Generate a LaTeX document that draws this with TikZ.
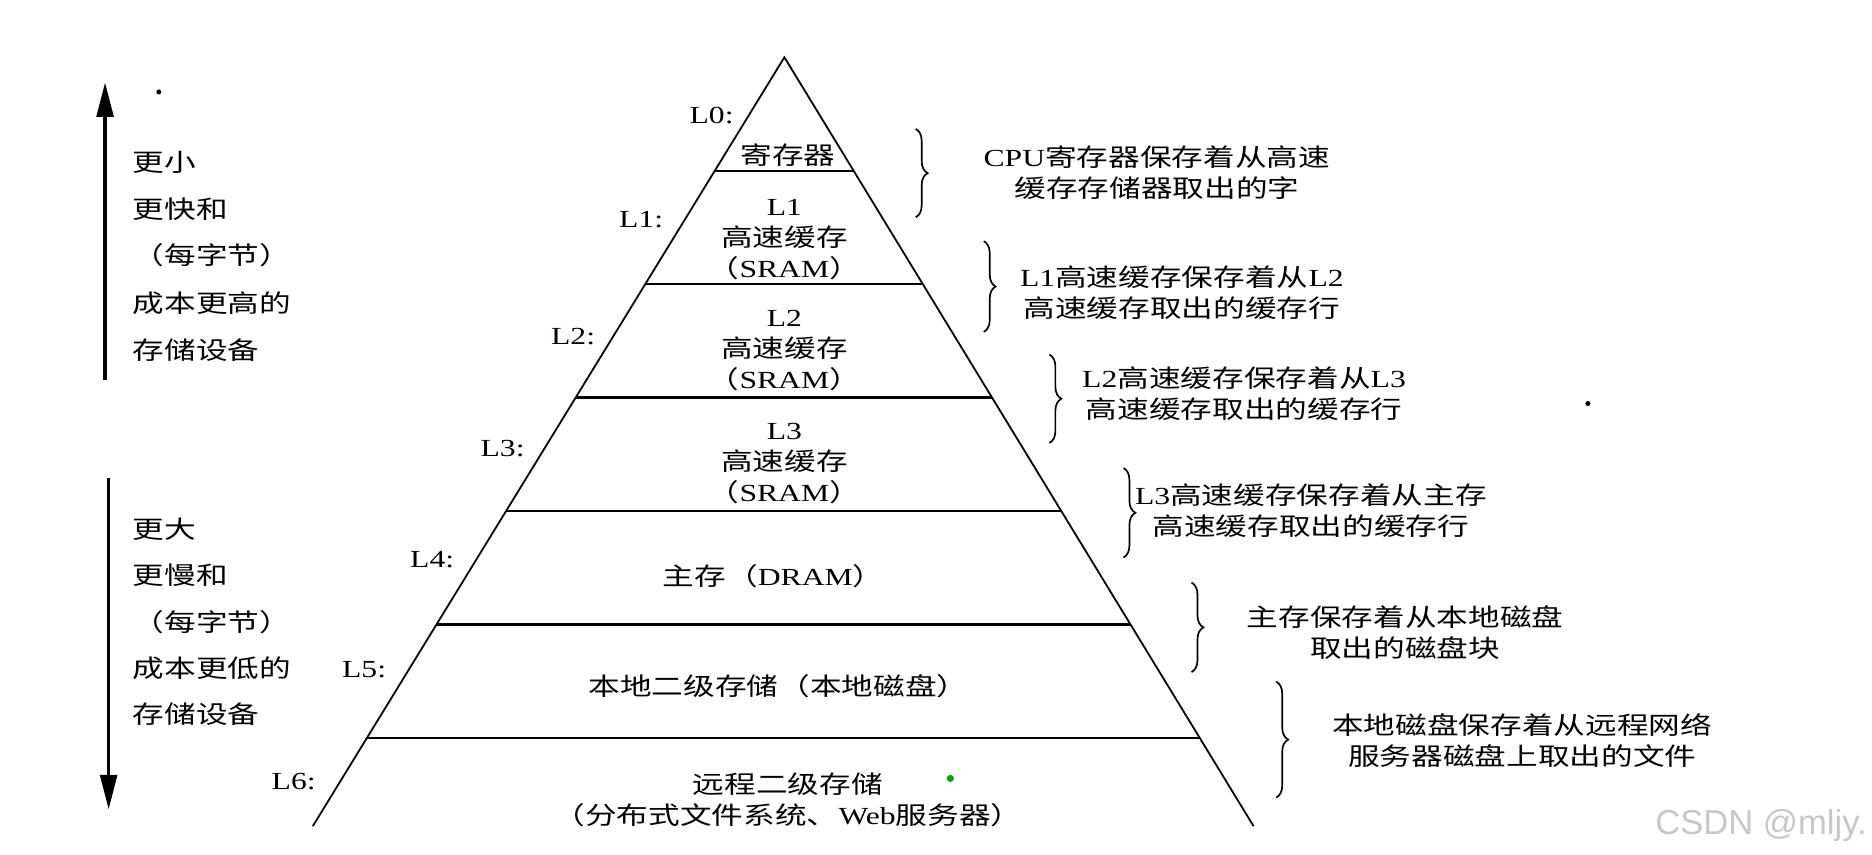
\documentclass[tikz,border=0pt]{standalone}
\usepackage{fontspec}
\setmainfont{Liberation Serif}[FakeStretch=1.29]
\newfontfamily\cjkfont{Noto Sans CJK SC}[FakeStretch=1.29]
\newfontfamily\markfont{Liberation Sans}
\newcommand{\zh}[1]{{\cjkfont #1}}
\usetikzlibrary{calc,arrows.meta,decorations.pathreplacing}

\begin{document}
\begin{tikzpicture}[x=0.02cm, y=-0.02cm,
	txt/.style={font=\fontsize{11.7}{14.8}\selectfont, inner sep=0pt, align=center},
	side/.style={line width=0.85pt},
	level/.style={line width=1.1pt},
	bigarrow/.style={line width=1.7pt, -{Triangle[length=0.58cm,width=0.28cm]}},
	curly/.style={line width=0.8pt, decorate, decoration={brace, amplitude=0.2cm}}]
\useasboundingbox (0,0) rectangle (1568,716);

\coordinate (apex) at (657,48);
\coordinate (bl) at (262,692);
\coordinate (br) at (1050,692);
\draw[side] (bl) -- (apex) -- (br);
\foreach \k in {1,...,6}{
	\coordinate (l\k) at ($(apex)!\k*0.1475!(bl)$);
	\coordinate (r\k) at ($(apex)!\k*0.1475!(br)$);
	\draw[level] (l\k) -- (r\k);
}

\foreach \k/\x/\y in {0/596/97, 1/537/184, 2/480/282, 3/421/376, 4/362/469, 5/305/561, 6/246/655}
	\node[txt] (lab\k) at (\x,\y) {L\k:};

\node[txt] (reg) at (660,130) {\zh{寄存器}};
\node[txt] (cache1) at (657,201) {L1\\\zh{高速缓存}\\\zh{（}SRAM\zh{）}};
\node[txt] (cache2) at (657,294) {L2\\\zh{高速缓存}\\\zh{（}SRAM\zh{）}};
\node[txt] (cache3) at (657,388) {L3\\\zh{高速缓存}\\\zh{（}SRAM\zh{）}};
\node[txt] (mem) at (648,483) {\zh{主存（}DRAM\zh{）}};
\node[txt] (disk) at (652,575) {\zh{本地二级存储（本地磁盘）}};
\node[txt] (remote) at (660,670) {\zh{远程二级存储}\\\zh{（分布式文件系统、}Web\zh{服务器）}};

\foreach \i/\x/\ya/\yb in {1/767/108/182, 2/824/202/278, 3/879/297/371, 4/941/392/467, 5/998/488/563, 6/1069/571/668}{
	\coordinate (bt\i) at (\x,\ya);
	\coordinate (bb\i) at (\x,\yb);
	\draw[curly] (bt\i) -- (bb\i);
}

\node[txt] (note1) at (969,145) {CPU\zh{寄存器保存着从高速}\\\zh{缓存存储器取出的字}};
\node[txt] (note2) at (990,245) {L1\zh{高速缓存保存着从}L2\\\zh{高速缓存取出的缓存行}};
\node[txt] (note3) at (1042,330) {L2\zh{高速缓存保存着从}L3\\\zh{高速缓存取出的缓存行}};
\node[txt] (note4) at (1098,428) {L3\zh{高速缓存保存着从主存}\\\zh{高速缓存取出的缓存行}};
\node[txt] (note5) at (1177,530) {\zh{主存保存着从本地磁盘}\\\zh{取出的磁盘块}};
\node[txt] (note6) at (1275,620) {\zh{本地磁盘保存着从远程网络}\\\zh{服务器磁盘上取出的文件}};

\coordinate (upS) at (88,318);
\coordinate (upE) at (88,69);
\coordinate (downS) at (91,400);
\coordinate (downE) at (91,678);
\draw[bigarrow] (upS) -- (upE);
\draw[bigarrow] (downS) -- (downE);

\foreach \t/\y in {更小/136, 更快和/175, （每字节）/214, 成本更高的/254, 存储设备/293}
	\node[txt, anchor=west] at (111,\y) {\zh{\t}};
\foreach \t/\y in {更大/443, 更慢和/482, （每字节）/521, 成本更低的/560, 存储设备/598}
	\node[txt, anchor=west] at (111,\y) {\zh{\t}};

\fill (133,77) circle[radius=1.2pt];
\fill (1330,338) circle[radius=1.2pt];
\fill[green!65!black] (796,652) circle[radius=1.7pt];
\node[font=\markfont\fontsize{16.5}{18}\selectfont, text=black!22, inner sep=0pt, anchor=base] (mark) at (1475,699) {CSDN @mljy.};
\end{tikzpicture}
\end{document}
